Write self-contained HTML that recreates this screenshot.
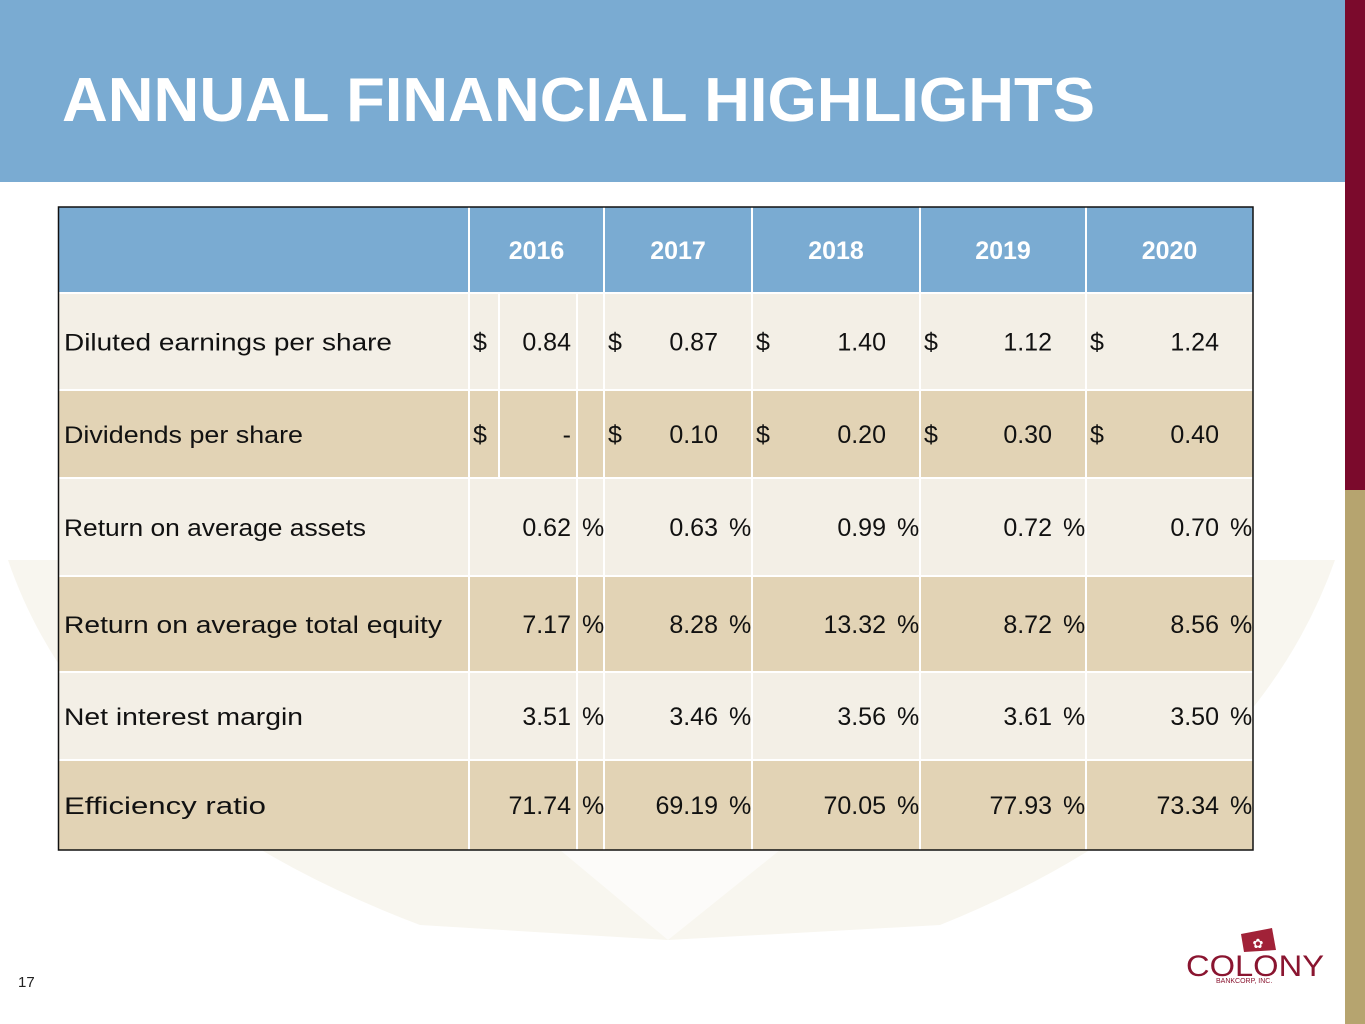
<!DOCTYPE html>
<html><head><meta charset="utf-8"><style>
html,body{margin:0;padding:0;background:#fff;width:1365px;height:1024px;overflow:hidden}
svg{display:block}
text{font-family:"Liberation Sans",sans-serif}
</style></head><body>
<svg id="s" width="1365" height="1024" viewBox="0 0 1365 1024" xmlns="http://www.w3.org/2000/svg">
<path d="M8,560 L1335,560 Q1250,800 940,925 L668,940 L420,925 Q90,800 8,560 Z" fill="#f8f6ef"/>
<path d="M560,850 L668,940 L780,850 Z" fill="#ffffff" opacity="0.6"/>
<rect x="0" y="0" width="1345" height="182" fill="#7aabd2"/>
<text x="62" y="121" font-size="62" font-weight="bold" fill="#fff" textLength="1033" lengthAdjust="spacingAndGlyphs">ANNUAL FINANCIAL HIGHLIGHTS</text>
<rect x="1345" y="0" width="20" height="490" fill="#7b0a2c"/>
<rect x="1345" y="490" width="20" height="534" fill="#b6a46f"/>
<g id="tbl"></g>
<text x="18" y="987" font-size="15" fill="#222">17</text>
<g>
<path d="M1241,934 L1272,928 L1276,950 L1244,952 Z" fill="#a12238"/>
<text x="1258" y="948" font-size="13" fill="#fff" text-anchor="middle">✿</text>
<text x="1186" y="976" font-size="30" font-family="Liberation Serif,serif" fill="#8a1530" textLength="138" lengthAdjust="spacingAndGlyphs">COLONY</text>
<text x="1216" y="983" font-size="7" font-family="Liberation Serif,serif" fill="#8a1530">BANKCORP, INC.</text>
</g>
</svg>
<script>
const years=["2016","2017","2018","2019","2020"];
const labels=["Diluted earnings per share","Dividends per share","Return on average assets","Return on average total equity","Net interest margin","Efficiency ratio"];
const rowEps=["0.84","0.87","1.40","1.12","1.24"];
const rowDiv=["-","0.10","0.20","0.30","0.40"];
const rowRoa=["0.62","0.63","0.99","0.72","0.70"];
const rowRoe=["7.17","8.28","13.32","8.72","8.56"];
const rowNim=["3.51","3.46","3.56","3.61","3.50"];
const rowEff=["71.74","69.19","70.05","77.93","73.34"];
const rows=[rowEps,rowDiv,rowRoa,rowRoe,rowNim,rowEff];
const isDollar=[true,true,false,false,false,false];
const NS="http://www.w3.org/2000/svg";
const g=document.getElementById('tbl');
const colX=[58,469,604,752,920,1086,1253];
const valEnd=[571,718,886,1052,1219];
const rowY=[207,293,390,478,576,672,760,850];
function mk(t,a,txt){const e=document.createElementNS(NS,t);for(const k in a)e.setAttribute(k,a[k]);if(txt!==undefined)e.textContent=txt;g.appendChild(e);return e;}
// backgrounds
let hb=mk('rect',{x:58,y:207,width:1195,height:86,fill:'#7aabd2'});


for(let r=0;r<rows.length;r++){
  let rb=mk('rect',{x:58,y:rowY[r+1],width:1195,height:rowY[r+2]-rowY[r+1],fill:r%2?'#e2d3b5':'#f3efe6'});
  
  
}
// grid lines (white)
for(let c=1;c<colX.length-1;c++){mk('line',{x1:colX[c],y1:207,x2:colX[c],y2:850,stroke:'#fff','stroke-width':2});}
mk('line',{x1:577,y1:293,x2:577,y2:850,stroke:'#fff','stroke-width':2});
mk('line',{x1:499,y1:293,x2:499,y2:478,stroke:'#fff','stroke-width':2});
for(let r=1;r<rowY.length-1;r++){mk('line',{x1:58,y1:rowY[r],x2:1253,y2:rowY[r],stroke:'#fff','stroke-width':2});}
mk('rect',{x:58.5,y:207,width:1194.5,height:643,fill:'none',stroke:'#111','stroke-width':1.5});
// headers
years.forEach((y,i)=>{
  let t=mk('text',{x:(colX[i+1]+colX[i+2])/2,y:259,'font-size':25,'font-weight':'bold',fill:'#fff','text-anchor':'middle'},y);
  
  
});
// rows
rows.forEach((vals,r)=>{
  const cy=(rowY[r+1]+rowY[r+2])/2+9;
  let l=mk('text',{x:64,y:cy,'font-size':24.5,fill:'#111',textLength:Math.round(labels[r].length*12.6),lengthAdjust:'spacingAndGlyphs'},labels[r]);
  
  
  vals.forEach((v,i)=>{
    if(isDollar[r]){
      let d=mk('text',{x:colX[i+1]+4,y:cy,'font-size':25,fill:'#111'},'$');
      
      
      let t=mk('text',{x:valEnd[i],y:cy,'font-size':25,fill:'#111','text-anchor':'end'},v);
      
      
    } else {
      let t=mk('text',{x:valEnd[i],y:cy,'font-size':25,fill:'#111','text-anchor':'end'},v);
      
      
      let p=mk('text',{x:valEnd[i]+11,y:cy,'font-size':25,fill:'#111'},'%');
      
      
    }
  });
});
</script>
</body></html>
